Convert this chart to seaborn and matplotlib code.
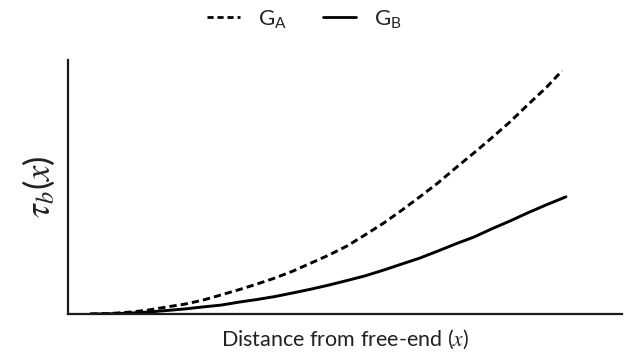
import numpy as np
import pandas as pd
import matplotlib
matplotlib.use("Agg")
import matplotlib.pyplot as plt
import seaborn as sns

# Normalised distance from the free end and bond stress for the two shear moduli
distance_GA = [0.040, 0.076, 0.114, 0.146, 0.179, 0.211, 0.244, 0.276, 0.309, 0.341,
               0.374, 0.406, 0.439, 0.471, 0.504, 0.536, 0.570, 0.603, 0.635, 0.668,
               0.700, 0.733, 0.765, 0.798, 0.830, 0.863, 0.892]
tau_GA = [0.0, 0.002, 0.008, 0.016, 0.028, 0.039, 0.055, 0.075, 0.096, 0.118,
          0.142, 0.169, 0.201, 0.232, 0.268, 0.311, 0.358, 0.409, 0.461, 0.516,
          0.575, 0.634, 0.693, 0.756, 0.823, 0.890, 0.957]
distance_GB = [0.040, 0.076, 0.114, 0.146, 0.179, 0.211, 0.244, 0.276, 0.309, 0.341,
               0.374, 0.406, 0.439, 0.471, 0.504, 0.536, 0.570, 0.603, 0.635, 0.668,
               0.700, 0.733, 0.765, 0.798, 0.830, 0.863, 0.899]
tau_GB = [0.0, 0.001, 0.004, 0.008, 0.014, 0.020, 0.028, 0.035, 0.047, 0.057,
          0.069, 0.083, 0.098, 0.114, 0.132, 0.150, 0.173, 0.197, 0.220, 0.248,
          0.276, 0.303, 0.335, 0.366, 0.398, 0.429, 0.461]
series_labels = ["G$_\\mathrm{A}$", "G$_\\mathrm{B}$"]

df = pd.concat([
    pd.DataFrame({"x": distance_GA, "tau": tau_GA, "series": series_labels[0]}),
    pd.DataFrame({"x": distance_GB, "tau": tau_GB, "series": series_labels[1]}),
])

sns.set_theme(style="white")
plt.rcParams["font.family"] = ["Lato", "DejaVu Sans"]
plt.rcParams["mathtext.fontset"] = "custom"
plt.rcParams["mathtext.rm"] = "Lato"
plt.rcParams["mathtext.sf"] = "Lato"
plt.rcParams["mathtext.it"] = "STIXGeneral:italic"
plt.rcParams["mathtext.bf"] = "Lato:bold"

fig = plt.figure(figsize=(6.25, 3.57), dpi=100)
ax = fig.add_axes([0.109, 0.1204, 0.886, 0.712])

dash_pattern = (2.5, 1.4)
sns.lineplot(
    data=df, x="x", y="tau", style="series",
    style_order=series_labels,
    dashes={series_labels[0]: dash_pattern, series_labels[1]: ""},
    color="black", linewidth=2.1, ax=ax, legend=False, sort=False,
)

ax.set_xlim(0, 1)
ax.set_ylim(0, 1)
ax.set_xticks([])
ax.set_yticks([])
for side in ("top", "right"):
    ax.spines[side].set_visible(False)
for side in ("left", "bottom"):
    ax.spines[side].set_color("#1a1a1a")
    ax.spines[side].set_linewidth(1.6)

ax.set_xlabel("Distance from free-end ($x$)", fontsize=15.5, color="#222222", labelpad=10)
ax.set_ylabel("$\\tau_b(x)$", fontsize=25, color="#222222", labelpad=8)

handles = [
    plt.Line2D([], [], color="black", linewidth=2.0, linestyle=(0, (2.2, 1.4))),
    plt.Line2D([], [], color="black", linewidth=2.0, linestyle="-"),
]
fig.legend(handles, series_labels, loc="upper center", bbox_to_anchor=(0.487, 1.035),
           ncol=2, frameon=False, fontsize=16, handlelength=1.5, columnspacing=1.6,
           handletextpad=0.8)

fig.savefig("out.png", dpi=100, facecolor="white")
